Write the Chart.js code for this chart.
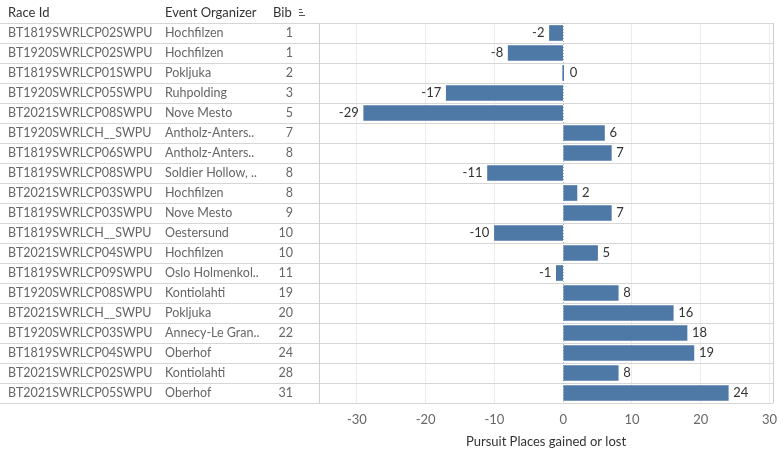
<!DOCTYPE html>
<html lang="en">
<head>
    <meta charset="UTF-8">
    <title>Pursuit Places gained or lost</title>
    <script src="https://cdn.jsdelivr.net/npm/chart.js"></script>
    <style>
        body {
            margin: 0;
            background-color: #ffffff;
        }
        #wrap {
            width: 783px;
            height: 460px;
        }
    </style>
</head>
<body>
<div id="wrap">
    <canvas id="pursuitChart" width="783" height="460"></canvas>
</div>
<script>
    // table columns + measure
    let raceIds = [
        'BT1819SWRLCP02SWPU', 'BT1920SWRLCP02SWPU', 'BT1819SWRLCP01SWPU', 'BT1920SWRLCP05SWPU',
        'BT2021SWRLCP08SWPU', 'BT1920SWRLCH__SWPU', 'BT1819SWRLCP06SWPU', 'BT1819SWRLCP08SWPU',
        'BT2021SWRLCP03SWPU', 'BT1819SWRLCP03SWPU', 'BT1819SWRLCH__SWPU', 'BT2021SWRLCP04SWPU',
        'BT1819SWRLCP09SWPU', 'BT1920SWRLCP08SWPU', 'BT2021SWRLCH__SWPU', 'BT1920SWRLCP03SWPU',
        'BT1819SWRLCP04SWPU', 'BT2021SWRLCP02SWPU', 'BT2021SWRLCP05SWPU'
    ];
    let organizers = [
        'Hochfilzen', 'Hochfilzen', 'Pokljuka', 'Ruhpolding', 'Nove Mesto', 'Antholz-Anters..',
        'Antholz-Anters..', 'Soldier Hollow, ..', 'Hochfilzen', 'Nove Mesto', 'Oestersund',
        'Hochfilzen', 'Oslo Holmenkol..', 'Kontiolahti', 'Pokljuka', 'Annecy-Le Gran..',
        'Oberhof', 'Kontiolahti', 'Oberhof'
    ];
    let bibs = [1, 1, 2, 3, 5, 7, 8, 8, 8, 9, 10, 10, 11, 19, 20, 22, 24, 28, 31];
    let placesGained = [-2, -8, 0, -17, -29, 6, 7, -11, 2, 7, -10, 5, -1, 8, 16, 18, 19, 8, 24];
    let xTicks = [-30, -20, -10, 0, 10, 20, 30];

    let headers = ['Race Id', 'Event Organizer', 'Bib'];
    let textFont = '"Lato", sans-serif';

    // draws the text table, row rules and value labels around the bars
    const tablePlugin = {
        id: 'tablePlugin',
        beforeDatasetsDraw(chart) {
            let c = chart.ctx;
            let area = chart.chartArea;
            let yScale = chart.scales.y;
            let xScale = chart.scales.x;
            let rowH = yScale.getPixelForValue(1) - yScale.getPixelForValue(0);
            c.save();
            // row rules
            c.strokeStyle = '#d6d6d6';
            c.lineWidth = 1;
            for (let i = 0; i <= raceIds.length; i++) {
                let y = Math.round(area.top + i * rowH) + 0.5;
                c.beginPath();
                c.moveTo(0, y);
                c.lineTo(area.right, y);
                c.stroke();
            }
            // vertical separators
            c.strokeStyle = '#cfcfcf';
            [area.left, area.right].forEach(x => {
                c.beginPath();
                c.moveTo(Math.round(x) + 0.5, area.top);
                c.lineTo(Math.round(x) + 0.5, area.bottom);
                c.stroke();
            });
            // zero line
            let zx = Math.round(xScale.getPixelForValue(0)) + 0.5;
            c.strokeStyle = '#9fb3c8';
            c.setLineDash([1, 2]);
            c.beginPath();
            c.moveTo(zx, area.top);
            c.lineTo(zx, area.bottom);
            c.stroke();
            c.setLineDash([]);
            // header
            c.fillStyle = '#333333';
            c.font = '13px ' + textFont;
            c.textBaseline = 'middle';
            c.textAlign = 'left';
            c.fillText(headers[0], 8, 13);
            c.fillText(headers[1], 165, 13);
            c.fillText(headers[2], 273, 13);
            // sort icon
            c.strokeStyle = '#555555';
            c.lineWidth = 1;
            [[299, 302, 9.5], [299, 303, 12.5], [299, 305, 15.5]].forEach(s => {
                c.beginPath();
                c.moveTo(s[0], s[2]);
                c.lineTo(s[1], s[2]);
                c.stroke();
            });
            // cells
            c.fillStyle = '#666666';
            c.font = '12.5px ' + textFont;
            for (let i = 0; i < raceIds.length; i++) {
                let y = yScale.getPixelForValue(i);
                c.textAlign = 'left';
                c.fillText(raceIds[i], 8, y);
                c.fillText(organizers[i], 165, y);
                c.textAlign = 'right';
                c.fillText(String(bibs[i]), 293, y);
            }
            c.restore();
        },
        afterDatasetsDraw(chart) {
            let c = chart.ctx;
            let meta = chart.getDatasetMeta(0);
            c.save();
            c.font = '13px ' + textFont;
            c.fillStyle = '#333333';
            c.textBaseline = 'middle';
            meta.data.forEach((bar, i) => {
                let v = placesGained[i];
                if (v < 0) {
                    c.textAlign = 'right';
                    c.fillText(String(v), bar.x - 5, bar.y);
                } else {
                    c.textAlign = 'left';
                    c.fillText(String(v), Math.max(bar.x, bar.base + 1) + 5, bar.y);
                }
            });
            c.restore();
        }
    };

    let ctx = document.getElementById('pursuitChart').getContext('2d');
    let pursuitChart = new Chart(ctx, {
        type: 'bar',
        data: {
            labels: raceIds,
            datasets: [{
                label: 'Pursuit Places gained or lost',
                data: placesGained,
                backgroundColor: '#4e79a7',
                barThickness: 15,
                minBarLength: 1
            }]
        },
        options: {
            indexAxis: 'y',
            responsive: false,
            animation: false,
            layout: {
                padding: { left: 319, right: 10, top: 23, bottom: 0 }
            },
            plugins: {
                legend: { display: false },
                tooltip: { enabled: false }
            },
            scales: {
                y: {
                    display: false
                },
                x: {
                    min: -35.5,
                    max: 30.5,
                    afterBuildTicks: function(scale) {
                        scale.ticks = xTicks.map(v => ({ value: v }));
                    },
                    afterFit: function(scale) {
                        scale.height = 57;
                        scale.paddingLeft = 0;
                        scale.paddingRight = 0;
                    },
                    border: { display: false },
                    grid: {
                        color: function(c) {
                            return c.tick && c.tick.value === 0 ? 'rgba(0,0,0,0)' : '#ececec';
                        },
                        drawTicks: false
                    },
                    ticks: {
                        padding: 9,
                        color: '#666666',
                        font: { family: textFont, size: 13 }
                    },
                    title: {
                        display: true,
                        text: 'Pursuit Places gained or lost',
                        color: '#333333',
                        font: { family: textFont, size: 13 },
                        padding: { top: 4, bottom: 10 }
                    }
                }
            }
        },
        plugins: [tablePlugin]
    });
</script>
</body>
</html>
